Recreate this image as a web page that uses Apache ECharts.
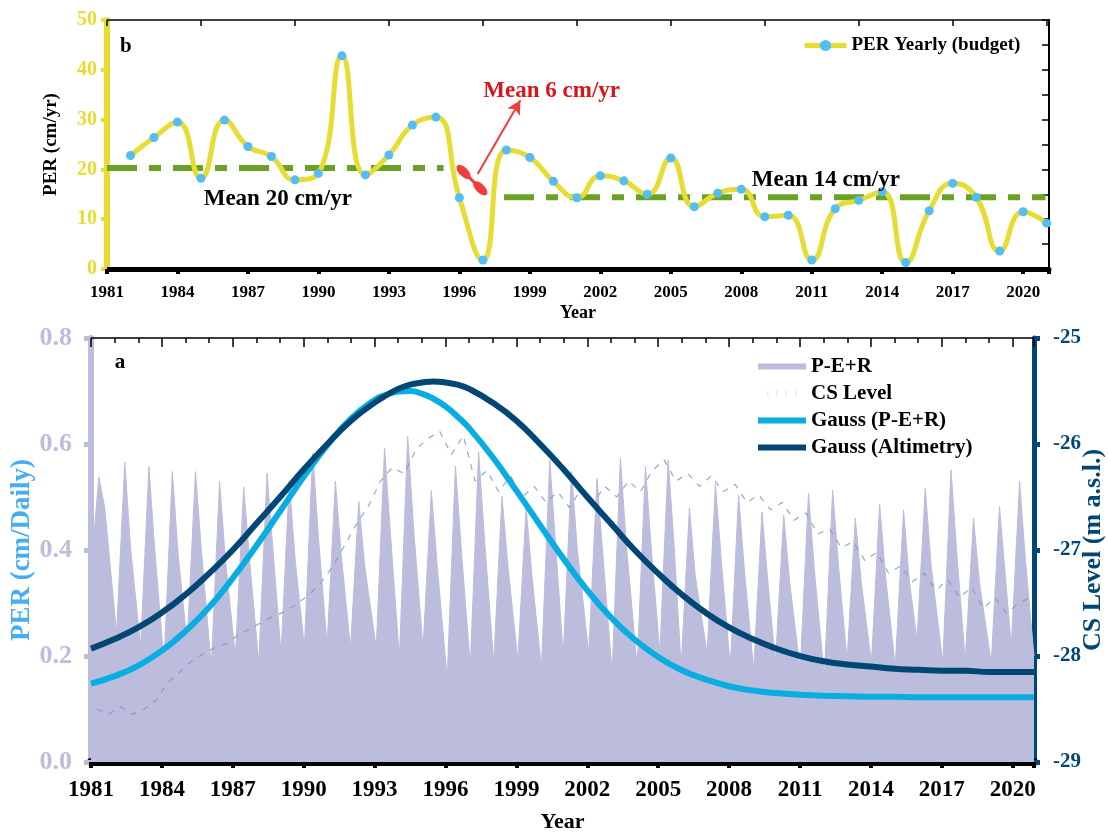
<!DOCTYPE html>
<html>
<head>
<meta charset="utf-8">
<script src="https://cdn.jsdelivr.net/npm/echarts@6/dist/echarts.min.js"></script>
<style>
  html, body { margin: 0; padding: 0; background: #ffffff; }
  #chart { width: 1108px; height: 832px; }
</style>
</head>
<body>
<div id="chart"></div>
<script>
// ---- Panel b: yearly P-E+R budget (cm/yr) ----
const budgetYears = [1982, 1983, 1984, 1985, 1986, 1987, 1988, 1989, 1990, 1991,
  1992, 1993, 1994, 1995, 1996, 1997, 1998, 1999, 2000, 2001,
  2002, 2003, 2004, 2005, 2006, 2007, 2008, 2009, 2010, 2011,
  2012, 2013, 2014, 2015, 2016, 2017, 2018, 2019, 2020, 2021];
const budgetValues = [22.8, 26.4, 29.5, 18.2, 29.9, 24.6, 22.6, 17.9, 19.2, 42.8,
  18.9, 22.9, 28.9, 30.5, 14.3, 1.8, 23.9, 22.4, 17.6, 14.3,
  18.7, 17.7, 15.0, 22.3, 12.5, 15.2, 16.0, 10.5, 10.8, 1.8,
  12.1, 13.8, 15.5, 1.3, 11.7, 17.2, 14.4, 3.6, 11.5, 9.2];

// period means (cm/yr) and the spans they cover
const meanEarlySpan = [1981, 1995.33];
const meanEarlyValue = 20.3;
const meanLateSpan = [1997.9, 2020.95];
const meanLateValue = 14.4;
const meanGapValue = 6;

// ---- Panel a: daily P-E+R (cm/day), one rain-season spike per year ----
const perYears = [1981, 1982, 1983, 1984, 1985, 1986, 1987, 1988, 1989, 1990,
  1991, 1992, 1993, 1994, 1995, 1996, 1997, 1998, 1999, 2000,
  2001, 2002, 2003, 2004, 2005, 2006, 2007, 2008, 2009, 2010,
  2011, 2012, 2013, 2014, 2015, 2016, 2017, 2018, 2019, 2020];
const perPeakAt = [1981.33, 1982.43, 1983.45, 1984.44, 1985.42, 1986.44, 1987.46, 1988.45, 1989.39, 1990.38,
  1991.34, 1992.33, 1993.42, 1994.40, 1995.40, 1996.42, 1997.40, 1998.39, 1999.41, 2000.41,
  2001.33, 2002.41, 2003.40, 2004.46, 2005.42, 2006.32, 2007.42, 2008.40, 2009.39, 2010.31,
  2011.36, 2012.38, 2013.34, 2014.37, 2015.38, 2016.30, 2017.39, 2018.34, 2019.44, 2020.29];
const perPeak = [0.538, 0.565, 0.557, 0.548, 0.548, 0.529, 0.519, 0.545, 0.529, 0.583,
  0.530, 0.491, 0.592, 0.615, 0.512, 0.558, 0.585, 0.501, 0.480, 0.570,
  0.548, 0.535, 0.573, 0.557, 0.570, 0.479, 0.525, 0.504, 0.472, 0.466,
  0.507, 0.513, 0.460, 0.486, 0.475, 0.516, 0.551, 0.460, 0.482, 0.529];
// low point just before each spike, plus the last value of the record
const perTrough = [0.360, 0.243, 0.218, 0.187, 0.224, 0.180, 0.199, 0.187, 0.205, 0.218,
  0.221, 0.215, 0.215, 0.196, 0.215, 0.158, 0.180, 0.187, 0.192, 0.177,
  0.200, 0.205, 0.168, 0.180, 0.205, 0.180, 0.205, 0.180, 0.174, 0.187,
  0.174, 0.161, 0.192, 0.187, 0.180, 0.230, 0.187, 0.192, 0.187, 0.218, 0.200];
// recession shoulder about a quarter year after each peak
const perShoulder = [0.480, 0.400, 0.400, 0.390, 0.400, 0.380, 0.380, 0.400, 0.380, 0.420,
  0.390, 0.370, 0.430, 0.440, 0.370, 0.400, 0.420, 0.370, 0.350, 0.410,
  0.400, 0.390, 0.410, 0.400, 0.410, 0.350, 0.380, 0.360, 0.340, 0.340,
  0.360, 0.370, 0.340, 0.350, 0.340, 0.370, 0.390, 0.340, 0.350, 0.380];
const perEnd = 2020.9;

// ---- Panel a: Caspian Sea level (m a.s.l.), half-yearly from 1981.25 ----
const csStart = 1981.25;
const csStep = 0.5;
const csLevels = [-28.50, -28.55, -28.48, -28.55, -28.50, -28.42, -28.25, -28.15, -28.05, -27.98,
  -27.92, -27.88, -27.80, -27.74, -27.68, -27.62, -27.58, -27.50, -27.42, -27.30,
  -27.15, -26.95, -26.75, -26.58, -26.35, -26.22, -26.28, -26.05, -25.95, -25.88,
  -26.10, -25.92, -26.35, -26.25, -26.45, -26.30, -26.50, -26.40, -26.55, -26.45,
  -26.60, -26.42, -26.55, -26.40, -26.50, -26.35, -26.45, -26.25, -26.15, -26.35,
  -26.28, -26.40, -26.30, -26.45, -26.38, -26.55, -26.48, -26.62, -26.55, -26.72,
  -26.65, -26.85, -26.80, -26.98, -26.92, -27.10, -27.02, -27.22, -27.15, -27.30,
  -27.22, -27.38, -27.28, -27.45, -27.35, -27.55, -27.45, -27.60, -27.50, -27.45];

// ---- Panel a: Gaussian fits, sampled yearly (half-yearly around the crest) ----
const gaussYears = [1981, 1982, 1983, 1984, 1985, 1986, 1987, 1988, 1989, 1990,
  1991, 1992, 1993, 1993.5, 1994, 1994.5, 1995, 1995.5, 1996, 1996.5, 1997, 1998, 1999, 2000,
  2001, 2002, 2003, 2004, 2005, 2006, 2007, 2008, 2009, 2010,
  2011, 2012, 2013, 2014, 2015, 2016, 2017, 2018, 2019, 2020, 2020.9];
const gaussPer = [0.148, 0.162, 0.182, 0.210, 0.247, 0.292, 0.347, 0.408, 0.473, 0.538,
  0.598, 0.648, 0.683, 0.693, 0.699, 0.700, 0.695, 0.685, 0.671, 0.652, 0.630, 0.575, 0.512, 0.447,
  0.383, 0.324, 0.273, 0.231, 0.198, 0.173, 0.156, 0.143, 0.135, 0.130,
  0.127, 0.125, 0.124, 0.123, 0.123, 0.122, 0.122, 0.122, 0.122, 0.122, 0.122];
const gaussAlt = [-27.93, -27.84, -27.73, -27.59, -27.42, -27.22, -27.00, -26.75, -26.50, -26.24,
  -26.00, -25.78, -25.61, -25.54, -25.48, -25.44, -25.42, -25.41, -25.42, -25.44, -25.48, -25.61, -25.78, -26.00,
  -26.24, -26.50, -26.75, -27.00, -27.22, -27.42, -27.59, -27.73, -27.84, -27.93,
  -28.00, -28.05, -28.08, -28.10, -28.12, -28.13, -28.14, -28.14, -28.15, -28.15, -28.15];

// ---- build point lists for the library ----
const budgetData = budgetYears.map((y, i) => [y, budgetValues[i]]);

const perData = [];
perYears.forEach((y, i) => {
  const t = perPeakAt[i];
  perData.push([Math.max(1981, t - 0.35), perTrough[i]]);
  perData.push([t, perPeak[i]]);
  perData.push([t + 0.25, perShoulder[i]]);
});
perData.push([perEnd, perTrough[perTrough.length - 1]]);

const csData = csLevels.map((v, i) => [csStart + i * csStep, v]);
const gaussPerData = gaussYears.map((y, i) => [y, gaussPer[i]]);
const gaussAltData = gaussYears.map((y, i) => [y, gaussAlt[i]]);

const F = "'Liberation Serif', 'Times New Roman', serif";
const yearFmt = v => String(v);

const C = {
  yellow: '#e6dc32',
  dot: '#52bdf6',
  green: '#69a224',
  red: '#d9141c',
  arrow: '#f23d3d',
  lavender: '#bcbcdc',
  cyan: '#08aee2',
  navy: '#004775',
  csLine: '#7d9bbd',
  csIcon: '#c3d1df',
  perTitle: '#45adf0'
};

// plain text placed at a data coordinate
const note = (x, y, text, size, color) => ({
  value: [x, y],
  label: { show: true, position: 'inside', formatter: text, fontSize: size, fontWeight: 'bold', color: color, fontFamily: F, opacity: 1 }
});

const chart = echarts.init(document.getElementById('chart'));

chart.setOption({
  animation: false,
  backgroundColor: '#ffffff',
  textStyle: { fontFamily: F },
  grid: [
    { left: 107, top: 20, width: 942, height: 249, containLabel: false, outerBoundsMode: 'none' },
    { left: 91, top: 338, width: 943, height: 424, containLabel: false, outerBoundsMode: 'none' }
  ],
  legend: [
    {
      data: ['PER Yearly (budget)'],
      left: 797, top: 31,
      itemWidth: 42, itemHeight: 14,
      lineStyle: { width: 5 },
      textStyle: { fontFamily: F, fontWeight: 'bold', fontSize: 19, lineHeight: 19, color: '#000' }
    },
    {
      data: [
        { name: 'P-E+R', icon: 'rect' },
        { name: 'CS Level', icon: 'path://M0,0h1v10h-1zM15,0h1v10h-1zM30,0h1v10h-1zM47,0h1v10h-1z', itemStyle: { color: C.csIcon } },
        { name: 'Gauss (P-E+R)', icon: 'rect' },
        { name: 'Gauss (Altimetry)', icon: 'rect' }
      ],
      orient: 'vertical',
      left: 753, top: 351,
      itemWidth: 48, itemHeight: 6, itemGap: 6,
      textStyle: { fontFamily: F, fontWeight: 'bold', fontSize: 21, lineHeight: 21, color: '#000' }
    }
  ],
  xAxis: [
    {
      gridIndex: 0, type: 'value', position: 'bottom',
      min: 1981, max: 2021.1, interval: 3,
      name: 'Year', nameLocation: 'middle', nameGap: 35, nameMoveOverlap: false,
      nameTextStyle: { fontFamily: F, fontWeight: 'bold', fontSize: 18, color: '#000' },
      axisLine: { onZero: false, lineStyle: { color: '#000', width: 5 } },
      axisTick: { length: 5, lineStyle: { color: '#000', width: 4 } },
      minorTick: { show: true, splitNumber: 3, length: 3, lineStyle: { color: '#000', width: 3 } },
      axisLabel: { formatter: yearFmt, margin: 15, fontFamily: F, fontWeight: 'bold', fontSize: 17, color: '#000', showMaxLabel: false },
      splitLine: { show: false }
    },
    {
      gridIndex: 0, type: 'value', position: 'top',
      min: 1981, max: 2021.1, interval: 4,
      axisLine: { onZero: false, lineStyle: { color: '#000', width: 1.5 } },
      axisTick: { inside: true, length: 6, lineStyle: { color: '#000', width: 1.5 } },
      axisLabel: { show: false },
      splitLine: { show: false }
    },
    {
      gridIndex: 1, type: 'value', position: 'bottom',
      min: 1981, max: 2020.9, interval: 3,
      name: 'Year', nameLocation: 'middle', nameGap: 49, nameMoveOverlap: false,
      nameTextStyle: { fontFamily: F, fontWeight: 'bold', fontSize: 22, color: '#000' },
      axisLine: { onZero: false, lineStyle: { color: '#000', width: 8 } },
      axisTick: { length: 6, lineStyle: { color: '#000', width: 4 } },
      minorTick: { show: true, splitNumber: 3, length: 3, lineStyle: { color: '#000', width: 4 } },
      axisLabel: { formatter: yearFmt, margin: 17, fontFamily: F, fontWeight: 'bold', fontSize: 23, color: '#000', showMaxLabel: false },
      splitLine: { show: false }
    },
    {
      gridIndex: 1, type: 'value', position: 'top',
      min: 1981, max: 2020.9, interval: 3,
      axisLine: { onZero: false, lineStyle: { color: '#000', width: 1.5 } },
      axisTick: { inside: true, length: 9, lineStyle: { color: '#000', width: 1.5 } },
      minorTick: { show: true, splitNumber: 3, length: 5, lineStyle: { color: '#000', width: 1.5 } },
      axisLabel: { show: false },
      splitLine: { show: false }
    }
  ],
  yAxis: [
    {
      gridIndex: 0, type: 'value', position: 'left',
      min: 0, max: 50, interval: 10,
      name: 'PER (cm/yr)', nameLocation: 'middle', nameGap: 46, nameMoveOverlap: false,
      nameTextStyle: { fontFamily: F, fontWeight: 'bold', fontSize: 19, color: '#000' },
      axisLine: { onZero: false, lineStyle: { color: C.yellow, width: 6 } },
      axisTick: { length: 6, lineStyle: { color: C.yellow, width: 4 } },
      axisLabel: { margin: 10, fontFamily: F, fontWeight: 'bold', fontSize: 20, color: C.yellow },
      splitLine: { show: false }
    },
    {
      gridIndex: 0, type: 'value', position: 'right',
      min: 0, max: 50, interval: 5,
      axisLine: { onZero: false, lineStyle: { color: '#000', width: 2 } },
      axisTick: { inside: true, length: 7, lineStyle: { color: '#000', width: 1.5 } },
      axisLabel: { show: false },
      splitLine: { show: false }
    },
    {
      gridIndex: 1, type: 'value', position: 'left',
      min: 0, max: 0.8, interval: 0.2,
      name: 'PER (cm/Daily)', nameLocation: 'middle', nameGap: 55, nameMoveOverlap: false,
      nameTextStyle: { fontFamily: F, fontWeight: 'bold', fontSize: 27, color: C.perTitle },
      axisLine: { onZero: false, lineStyle: { color: C.lavender, width: 6 } },
      axisTick: { length: 7, lineStyle: { color: C.lavender, width: 5 } },
      axisLabel: { margin: 19, formatter: v => v.toFixed(1), fontFamily: F, fontWeight: 'bold', fontSize: 26, color: C.lavender },
      splitLine: { show: false }
    },
    {
      gridIndex: 1, type: 'value', position: 'right',
      min: -29, max: -25, interval: 1,
      name: 'CS Level (m a.s.l.)', nameLocation: 'middle', nameGap: 46, nameRotate: 90, nameMoveOverlap: false,
      nameTextStyle: { fontFamily: F, fontWeight: 'bold', fontSize: 26, color: C.navy },
      axisLine: { onZero: false, lineStyle: { color: C.navy, width: 5 } },
      axisTick: { length: 6, lineStyle: { color: C.navy, width: 5 } },
      axisLabel: { margin: 19, fontFamily: F, fontWeight: 'bold', fontSize: 21, color: C.navy },
      splitLine: { show: false }
    }
  ],
  series: [
    // mean PER before the gap
    {
      name: 'mean-early', type: 'line', xAxisIndex: 0, yAxisIndex: 0,
      data: meanEarlySpan.map(x => [x, meanEarlyValue]),
      symbol: 'none', silent: true, z: 2,
      lineStyle: { color: C.green, width: 6, type: [30, 12, 12, 12] }
    },
    // mean PER after the gap
    {
      name: 'mean-late', type: 'line', xAxisIndex: 0, yAxisIndex: 0,
      data: meanLateSpan.map(x => [x, meanLateValue]),
      symbol: 'none', silent: true, z: 2,
      lineStyle: { color: C.green, width: 6, type: [30, 12, 12, 12] }
    },
    // yearly budget curve
    {
      name: 'PER Yearly (budget)', type: 'line', xAxisIndex: 0, yAxisIndex: 0,
      data: budgetData, smooth: 0.5,
      symbol: 'circle', symbolSize: 9, z: 4,
      lineStyle: { color: C.yellow, width: 5 },
      itemStyle: { color: C.dot, borderWidth: 0 }
    },
    // text and arrow annotations in panel b
    {
      name: 'notes-b', type: 'scatter', xAxisIndex: 0, yAxisIndex: 0,
      symbolSize: 0, silent: true, z: 6,
      itemStyle: { opacity: 1 },
      data: [
        note(1981.8, 44.6, 'b', 21, '#000'),
        note(1988.27, 14.06, `Mean ${Math.round(meanEarlyValue)} cm/yr`, 23, '#000'),
        note(2011.6, 17.9, `Mean ${Math.round(meanLateValue)} cm/yr`, 23, '#000'),
        note(1999.93, 35.7, `Mean ${meanGapValue} cm/yr`, 23, C.red)
      ],
      markLine: {
        silent: true, animation: false,
        label: { show: false },
        data: [
          [
            { coord: [1996.78, 19.1], symbol: 'none' },
            { coord: [1998.6, 33.9], symbol: 'arrow', symbolSize: [11, 14] }
          ],
          [
            { coord: [1996.18, 19.5], symbol: 'none' },
            { coord: [1996.89, 16.2], symbol: 'none', lineStyle: { width: 3 } }
          ]
        ],
        lineStyle: { color: C.arrow, width: 2, type: 'solid', opacity: 1 }
      },
      markPoint: {
        silent: true, animation: false,
        label: { show: false },
        itemStyle: { color: C.arrow, opacity: 1 },
        data: [
          { coord: [1996.18, 19.5], symbol: 'circle', symbolSize: [18, 9], symbolRotate: -45 },
          { coord: [1996.89, 16.2], symbol: 'circle', symbolSize: [18, 9], symbolRotate: -45 }
        ]
      }
    },
    // daily P-E+R
    {
      name: 'P-E+R', type: 'line', xAxisIndex: 2, yAxisIndex: 2,
      data: perData, symbol: 'none', z: 1,
      lineStyle: { color: C.lavender, width: 1 },
      itemStyle: { color: C.lavender },
      areaStyle: { color: C.lavender, opacity: 1 }
    },
    // Caspian Sea level
    {
      name: 'CS Level', type: 'line', xAxisIndex: 2, yAxisIndex: 3,
      data: csData, symbol: 'none', z: 2,
      lineStyle: { color: C.csLine, width: 1.2, type: [6, 7], opacity: 0.85 },
      itemStyle: { color: C.csLine }
    },
    // Gaussian fit of P-E+R
    {
      name: 'Gauss (P-E+R)', type: 'line', xAxisIndex: 2, yAxisIndex: 2,
      data: gaussPerData, smooth: true, symbol: 'none', z: 3,
      lineStyle: { color: C.cyan, width: 6 },
      itemStyle: { color: C.cyan }
    },
    // Gaussian fit of altimetry level
    {
      name: 'Gauss (Altimetry)', type: 'line', xAxisIndex: 2, yAxisIndex: 3,
      data: gaussAltData, smooth: true, symbol: 'none', z: 4,
      lineStyle: { color: C.navy, width: 6 },
      itemStyle: { color: C.navy }
    },
    // panel letter a
    {
      name: 'notes-a', type: 'scatter', xAxisIndex: 2, yAxisIndex: 2,
      symbolSize: 0, silent: true, z: 6,
      itemStyle: { opacity: 1 },
      data: [note(1982.23, 0.753, 'a', 21, '#000')]
    }
  ]
});
</script>
</body>
</html>
